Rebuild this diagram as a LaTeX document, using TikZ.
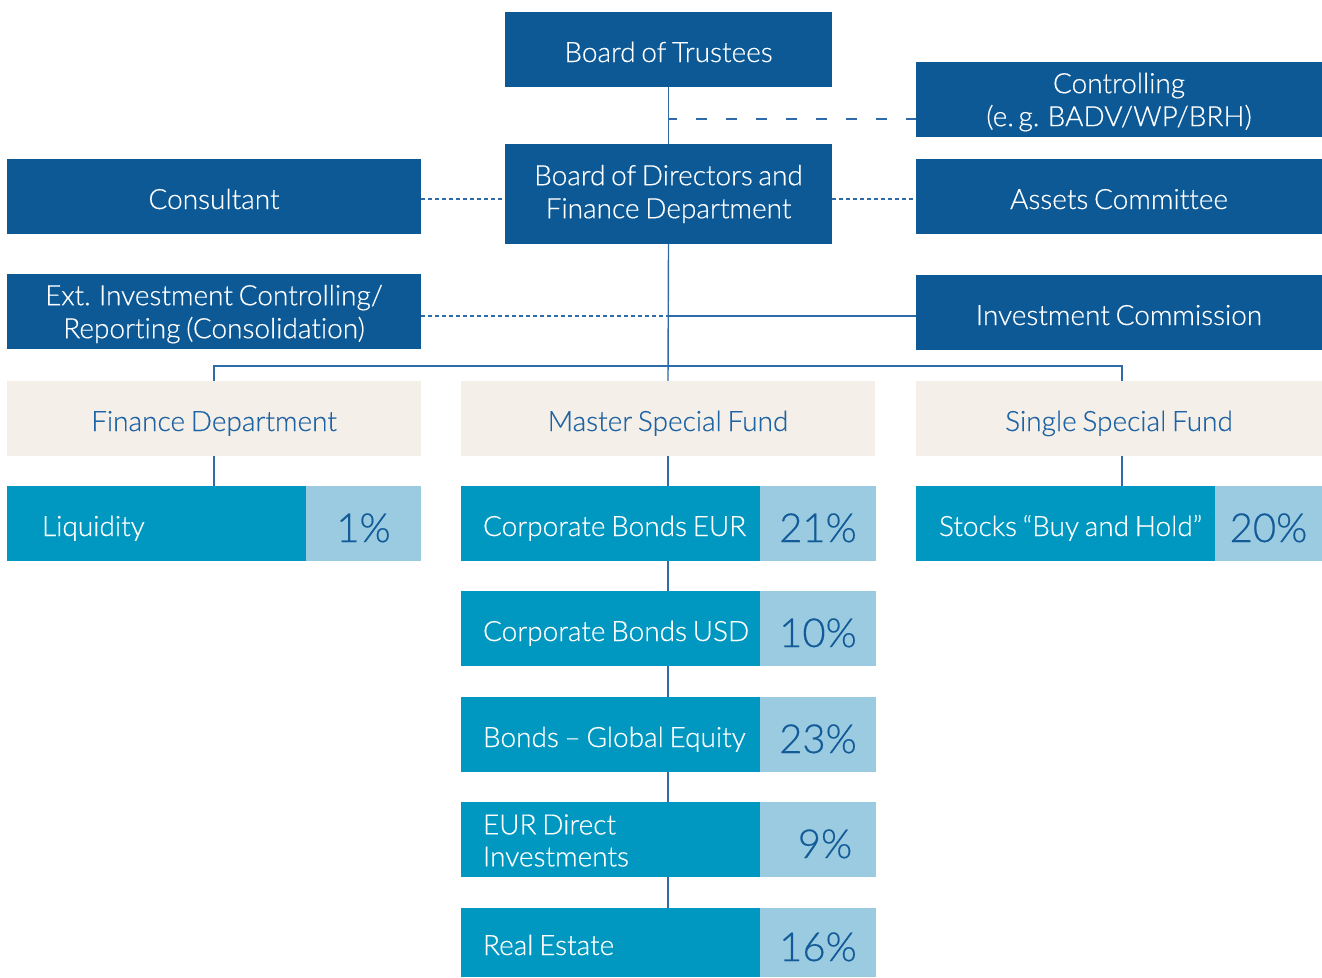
\documentclass[tikz,border=0pt]{standalone}
\usepackage{fontspec}
\setmainfont{Lato Light}[WordSpace=0.75,FakeBold=0.45,Ligatures={NoCommon}]
\definecolor{dblue}{HTML}{0C5996}
\definecolor{teal}{HTML}{0098C0}
\definecolor{lblue}{HTML}{9ACBE0}
\definecolor{beige}{HTML}{F4EFE8}
\definecolor{ptext}{HTML}{125A98}
\definecolor{btext}{HTML}{1E63A3}
\definecolor{linec}{HTML}{2E6BA8}
\begin{document}
\begin{tikzpicture}[x=1pt,y=-1pt,
  box/.style={rectangle,inner sep=0pt,align=center,font=\fontsize{28}{33}\selectfont},
  one/.style={text height=25pt,text depth=0pt},
  two/.style={text depth=0pt},
  darkbox/.style={box,fill=dblue,text=white,minimum height=75pt},
  beigebox/.style={box,fill=beige,text=btext,minimum width=414pt,minimum height=75pt,one},
  tealbox/.style={rectangle,inner sep=0pt,fill=teal,minimum width=299pt},
  tlabel/.style={anchor=west,inner sep=0pt,text=white,align=left,font=\fontsize{28}{32}\selectfont},
  pctbox/.style={rectangle,inner sep=0pt,fill=lblue,text=ptext,text height=37pt,text depth=0pt,
     font=\fontsize{40}{40}\selectfont},
  conn/.style={draw=linec,line width=1.4pt},
  fine/.style={conn,dash pattern=on 4pt off 3pt},
  coarse/.style={conn,dash pattern=on 11pt off 19pt,dash phase=2pt}]
\useasboundingbox (0,0) rectangle (1322,977);
% top boxes
\node[darkbox,one,minimum width=327pt] (trustees) at (668.5,49.5) {Board of Trustees};
\node[darkbox,two,minimum width=406pt] (controlling) at (1119,99.5) {Controlling\\(e.\,g. BADV/WP/BRH)};
\node[darkbox,minimum width=327pt,minimum height=100pt] (bod) at (668.5,194) {Board of Directors and\\Finance Department};
\node[darkbox,one,minimum width=414pt] (consultant) at (214,196.5) {Consultant};
\node[darkbox,one,minimum width=406pt] (assets) at (1119,196.5) {Assets Committee};
\node[darkbox,two,minimum width=414pt] (ext) at (214,311.5) {Ext. Investment Controlling/\\Reporting (Consolidation)};
\node[darkbox,one,minimum width=406pt] (invcomm) at (1119,312.5) {Investment Commission};
% funds
\node[beigebox] (findept) at (214,418.5) {Finance Department};
\node[beigebox] (master) at (668,418.5) {Master Special Fund};
\node[beigebox,minimum width=406pt] (single) at (1119,418.5) {Single Special Fund};
% liquidity
\node[tealbox,minimum height=75pt] (liq) at (156.5,523.5) {};
\node[tlabel,one] (liqT) at ([xshift=35pt]liq.west) {Liquidity};
\node[pctbox,minimum width=115pt,minimum height=75pt] (liqp) at (363.5,523.5) {1\%};
% master rows
\node[tealbox,minimum height=75pt] (ceur) at (610.5,523.5) {};
\node[tlabel,one] (ceurT) at ([xshift=22pt]ceur.west) {Corporate Bonds EUR};
\node[pctbox,minimum width=116pt,minimum height=75pt] (ceurp) at (818,523.5) {21\%};
\node[tealbox,minimum height=75pt] (cusd) at (610.5,628.5) {};
\node[tlabel,one] (cusdT) at ([xshift=22pt]cusd.west) {Corporate Bonds USD};
\node[pctbox,minimum width=116pt,minimum height=75pt] (cusdp) at (818,628.5) {10\%};
\node[tealbox,minimum height=75pt] (glob) at (610.5,734.5) {};
\node[tlabel,one] (globT) at ([xshift=22pt]glob.west) {Bonds -- Global Equity};
\node[pctbox,minimum width=116pt,minimum height=75pt] (globp) at (818,734.5) {23\%};
\node[tealbox,minimum height=75pt] (eurd) at (610.5,839.5) {};
\node[tlabel] (eurdT) at ([xshift=22pt,yshift=-1pt]eurd.west) {EUR Direct\\Investments};
\node[pctbox,minimum width=116pt,minimum height=75pt] (eurdp) at (818,839.5) {\hspace*{14pt}9\%};
\node[tealbox,minimum height=69pt] (real) at (610.5,942.5) {};
\node[tlabel,one] (realT) at ([xshift=22pt]real.west) {Real Estate};
\node[pctbox,minimum width=116pt,minimum height=69pt] (realp) at (818,942.5) {16\%};
% single
\node[tealbox,minimum height=75pt] (stocks) at (1065.5,523.5) {};
\node[tlabel,one] (stocksT) at ([xshift=23pt]stocks.west) {Stocks \textquotedblleft Buy and Hold\textquotedblright};
\node[pctbox,minimum width=107pt,minimum height=75pt] (stocksp) at (1268.5,523.5) {20\%};
% junctions
\coordinate (cj) at (668,119);
\coordinate (dj) at (668,199);
\coordinate (ej) at (668,316);
\coordinate (bus) at (668,366);
% connectors
\draw[conn] (trustees.south) -- (bod.north);
\draw[coarse] (cj) -- (cj -| controlling.west);
\draw[fine] (dj -| consultant.east) -- (dj -| bod.west);
\draw[fine] (dj -| bod.east) -- (dj -| assets.west);
\draw[conn] (bod.south) -- (master.north);
\draw[fine] (ej -| ext.east) -- (ej);
\draw[conn] (ej) -- (ej -| invcomm.west);
\draw[conn] (findept.north) |- (bus) -| ([xshift=3pt]single.north);
\draw[conn] (findept.south) -- (findept.south |- liq.north);
\draw[conn] ([xshift=3pt]single.south) -- ([xshift=3pt]single.south |- stocks.north);
\draw[conn] (master.south) -- (master.south |- ceur.north);
\draw[conn] (master.south |- ceur.south) -- (master.south |- cusd.north);
\draw[conn] (master.south |- cusd.south) -- (master.south |- glob.north);
\draw[conn] (master.south |- glob.south) -- (master.south |- eurd.north);
\draw[conn] (master.south |- eurd.south) -- (master.south |- real.north);
\end{tikzpicture}
\end{document}
